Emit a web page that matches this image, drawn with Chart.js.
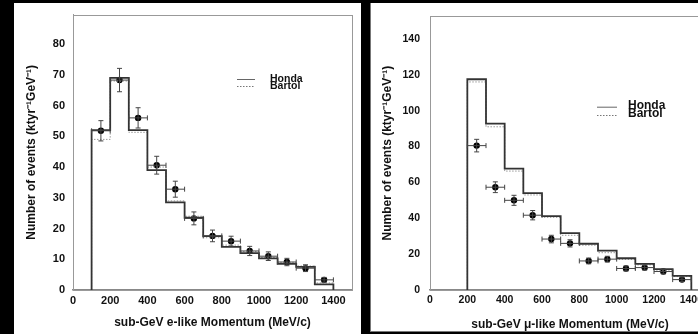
<!DOCTYPE html>
<html><head><meta charset="utf-8">
<script src="https://cdn.jsdelivr.net/npm/chart.js@4"></script>
<style>
html,body{margin:0;padding:0;background:#000;width:698px;height:334px;overflow:hidden;}
.box{position:absolute;background:#fff;}
.wrap{position:absolute;top:0;}
canvas{display:block;}
</style></head><body>
<div class="box" style="left:14px;top:3px;width:347px;height:331px"></div>
<div class="box" style="left:370px;top:3px;width:328px;height:328px;border-left:1px solid #777;border-bottom:1px solid #777"></div>
<div class="wrap" style="left:14px;width:347px;height:334px"><canvas id="c1" width="347" height="334" style="width:347px;height:334px"></canvas></div>
<div class="wrap" style="left:370px;width:358px;height:334px"><canvas id="c2" width="358" height="334" style="width:358px;height:334px"></canvas></div>
<script>
// ---- data ----
const binHalfWidth = 50;
const xTicks = [0, 200, 400, 600, 800, 1000, 1200, 1400];

// sub-GeV e-like
const eBinEdges = [100, 200, 300, 400, 500, 600, 700, 800, 900, 1000, 1100, 1200, 1300, 1400];
const eHonda  = [52, 69, 52, 39, 28.5, 23.5, 17.5, 14, 12, 10.3, 8.5, 7.5, 1.8];
const eBartol = [49, 68, 51.3, 40, 29, 24, 17, 14.6, 12.5, 10.6, 9, 7.8, 2.3];
const eData   = [51.8, 68.3, 56, 40.6, 32.8, 23.3, 17.6, 15.9, 12.7, 11, 9.1, 7.1, 3.3];
const eErr    = [3.3, 3.8, 3.3, 2.9, 2.6, 2.1, 1.9, 1.6, 1.5, 1.4, 1.2, 1.1, 0.8];
const eYTicks = [0, 10, 20, 30, 40, 50, 60, 70, 80];

// sub-GeV mu-like
const muBinEdges = [200, 300, 400, 500, 600, 700, 800, 900, 1000, 1100, 1200, 1300, 1400];
const muHonda  = [117.5, 92.8, 67.7, 54, 41.2, 31.7, 25.8, 22, 17.7, 14.6, 11.6, 7.9];
const muBartol = [116, 91, 66.3, 53, 40.5, 30.5, 25, 20.8, 17, 14, 11.1, 7.5];
const muData   = [80.5, 57.3, 50, 41.7, 28.4, 26, 16.2, 17.2, 12, 12.5, 10.3, 5.8];
const muErr    = [3.5, 3, 2.8, 2.6, 2.1, 2, 1.6, 1.6, 1.4, 1.4, 1.3, 1];
const muYTicks = [0, 20, 40, 60, 80, 100, 120, 140];

const seriesNames = ['Honda', 'Bartol', 'Data'];
const yTitle = 'Number of events (ktyr\u207B\u00B9GeV\u207B\u00B9)';

// ---- plugins ----
const FONT = 'Liberation Sans, Arial, Helvetica, sans-serif';
const framePlugin = {
  id: 'frame',
  beforeDatasetsDraw(chart, args, o) {
    const a = chart.chartArea, ctx = chart.ctx;
    ctx.save();
    ctx.strokeStyle = o.color; ctx.lineWidth = 1;
    ctx.strokeRect(Math.round(a.left) + 0.5, Math.round(a.top) + 0.5, Math.round(a.right - a.left), Math.round(a.bottom - a.top));
    ctx.restore();
  }
};
const errorBarPlugin = {
  id: 'errorBars',
  afterDatasetsDraw(chart, args, o) {
    const ctx = chart.ctx, xs = chart.scales.x, ys = chart.scales.y;
    chart.data.datasets.forEach(ds => {
      if (!ds.errors) return;
      ctx.save();
      ctx.strokeStyle = o.color; ctx.lineWidth = 1;
      ds.data.forEach((p, i) => {
        const x = xs.getPixelForValue(p.x), y = ys.getPixelForValue(p.y);
        const yt = ys.getPixelForValue(p.y + ds.errors[i]), yb = ys.getPixelForValue(p.y - ds.errors[i]);
        const xl = xs.getPixelForValue(p.x - binHalfWidth), xr = xs.getPixelForValue(p.x + binHalfWidth);
        const c = o.cap;
        ctx.beginPath();
        ctx.moveTo(x, yt); ctx.lineTo(x, yb);
        ctx.moveTo(x - c, yt); ctx.lineTo(x + c, yt);
        ctx.moveTo(x - c, yb); ctx.lineTo(x + c, yb);
        ctx.moveTo(xl, y); ctx.lineTo(xr, y);
        ctx.moveTo(xl, y - c); ctx.lineTo(xl, y + c);
        ctx.moveTo(xr, y - c); ctx.lineTo(xr, y + c);
        ctx.stroke();
      });
      ctx.restore();
    });
  }
};
const histLegendPlugin = {
  id: 'histLegend',
  afterDraw(chart, args, o) {
    const ctx = chart.ctx;
    ctx.save();
    chart.data.datasets.filter(ds => ds.inLegend).forEach((ds, i) => {
      const y = o.y + i * o.spacing;
      ctx.strokeStyle = ds.legendColor; ctx.lineWidth = 1;
      ctx.setLineDash(ds.borderDash || []);
      ctx.beginPath(); ctx.moveTo(o.x, y + 0.5); ctx.lineTo(o.x + o.len, y + 0.5); ctx.stroke();
      ctx.setLineDash([]);
      ctx.fillStyle = '#111';
      ctx.font = 'bold ' + o.size + 'px ' + FONT;
      ctx.textBaseline = 'middle';
      ctx.fillText(ds.label, o.textX, y - o.textUp);
    });
    ctx.restore();
  }
};

function build(id, cfg) {
  const edges = cfg.edges;
  const hist = vals => [{x: edges[0], y: 0}].concat(vals.map((v, i) => ({x: edges[i], y: v})), [{x: edges[edges.length - 1], y: 0}]);
  const pts = cfg.data.map((v, i) => ({x: edges[i] + binHalfWidth, y: v}));
  const tickFont = {family: FONT, size: cfg.tickSize, weight: 'bold'};
  const titleFont = {family: FONT, size: 12, weight: 'bold'};
  return new Chart(document.getElementById(id), {
    type: 'line',
    data: {datasets: [
      {label: seriesNames[0], data: hist(cfg.honda), stepped: true, borderColor: '#333', borderWidth: 1.8,
       pointRadius: 0, fill: false, inLegend: true, legendColor: '#666'},
      {label: seriesNames[1], data: hist(cfg.bartol), stepped: true, borderColor: '#9a9a9a', borderWidth: 1,
       borderDash: [1.5, 1.5], pointRadius: 0, fill: false, inLegend: true, legendColor: '#777'},
      {label: seriesNames[2], data: pts, showLine: false, pointRadius: 3.2, pointBackgroundColor: '#000',
       pointBorderColor: '#000', pointBorderWidth: 0, errors: cfg.err}
    ]},
    options: {
      responsive: false, animation: false, devicePixelRatio: 1,
      layout: {padding: {left: 0, right: cfg.padRight, top: cfg.padTop, bottom: 0}},
      plugins: {
        legend: {display: false}, tooltip: {enabled: false},
        frame: {color: '#999'},
        errorBars: {color: '#444', cap: 2.5},
        histLegend: cfg.legend
      },
      scales: {
        x: {
          type: 'linear', min: 0, max: 1500,
          afterBuildTicks: s => { s.ticks = xTicks.map(v => ({value: v})); },
          afterFit: s => { s.height = cfg.xAxisH; },
          grid: {display: false, drawTicks: false},
          border: {display: true, color: '#888', width: 1.5},
          ticks: {font: tickFont, color: '#111', padding: 4, maxRotation: 0, autoSkip: false, callback: v => String(v)},
          title: {display: true, text: cfg.xTitle, font: titleFont, color: '#111', padding: {top: 0, bottom: cfg.xTitlePad}}
        },
        y: {
          type: 'linear', min: 0, max: cfg.ymax,
          afterBuildTicks: s => { s.ticks = cfg.yTicks.map(v => ({value: v})); },
          afterFit: s => { s.width = cfg.yAxisW; },
          grid: {display: false, drawTicks: false},
          border: {display: true, color: '#999', width: 1},
          ticks: {font: tickFont, color: '#111', padding: cfg.yTickPad, callback: v => String(v)},
          title: {display: true, text: yTitle, font: titleFont, color: '#111', padding: {top: 10.8, bottom: 0}}
        }
      }
    },
    plugins: [framePlugin, errorBarPlugin, histLegendPlugin]
  });
}

build('c1', {
  edges: eBinEdges, honda: eHonda, bartol: eBartol, data: eData, err: eErr, yTicks: eYTicks,
  ymax: 89.6, padTop: 13, padRight: 9, xAxisH: 44, yAxisW: 59, yTickPad: 8, tickSize: 11, xTitlePad: 3.8,
  xTitle: 'sub-GeV e-like Momentum (MeV/c)',
  legend: {x: 223, y: 79, len: 18, spacing: 7, textX: 256, textUp: 0, size: 10.5}
});
build('c2', {
  edges: muBinEdges, honda: muHonda, bartol: muBartol, data: muData, err: muErr, yTicks: muYTicks,
  ymax: 152.6, padTop: 12, padRight: 18, xAxisH: 44, yAxisW: 60, yTickPad: 10, tickSize: 10.5, xTitlePad: 1.8,
  xTitle: 'sub-GeV \u03BC-like Momentum (MeV/c)',
  legend: {x: 227, y: 106.7, len: 20, spacing: 8.3, textX: 258, textUp: 1, size: 12}
});
</script>
</body></html>
